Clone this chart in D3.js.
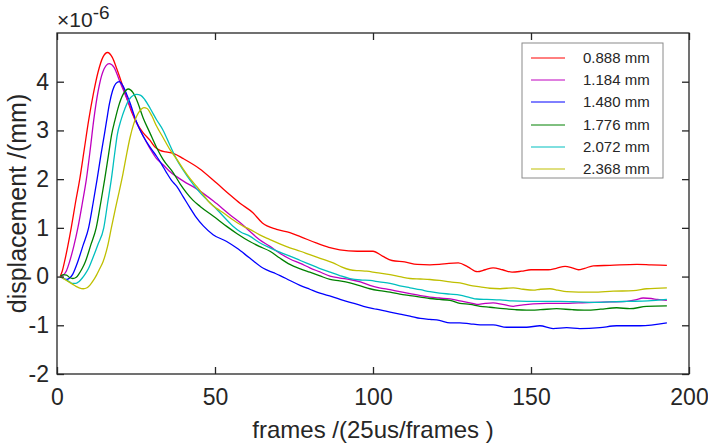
<!DOCTYPE html>
<html>
<head>
<meta charset="utf-8">
<script src="https://cdn.jsdelivr.net/npm/d3@7"></script>
<style>
  body { margin: 0; background: #fff; }
  svg text { font-family: "Liberation Sans", Arial, sans-serif; fill: #262626; }
</style>
</head>
<body>
<div id="chart"></div>
<script>
// legend / colours (old MATLAB style colour order)
const legendLabels = ["0.888 mm", "1.184 mm", "1.480 mm", "1.776 mm", "2.072 mm", "2.368 mm"];
const lineColors = ["#ff0000", "#bf00bf", "#0000ff", "#008000", "#00bfbf", "#bfbf00"];
const xTicks = [0, 50, 100, 150, 200];
const yTicks = [-2, -1, 0, 1, 2, 3, 4];

// [frame, displacement x1e-6 mm]
const d0888 = [[1,0],[1.7,0.12],[2.4,0.31],[3.4,0.62],[4.5,1.0],[5.8,1.5],[7.2,2.0],[8.6,2.6],[10,3.2],[11.5,3.75],[13,4.2],[14.5,4.5],[16,4.6],[17.5,4.5],[19,4.25],[20.5,3.97],[22,3.68],[23.5,3.4],[25.5,3.12],[27.3,2.95],[29.4,2.8],[31,2.66],[32.6,2.59],[34.5,2.56],[36.8,2.53],[40,2.42],[45,2.22],[50.5,1.92],[54.7,1.68],[58,1.5],[62,1.31],[65,1.1],[69.5,0.97],[73.7,0.9],[77,0.82],[82,0.69],[86,0.6],[89.5,0.55],[95,0.52],[100,0.52],[103,0.42],[106,0.33],[110,0.3],[114,0.25],[118,0.24],[121,0.25],[124,0.27],[127,0.28],[130,0.2],[133,0.1],[135.5,0.14],[138,0.18],[141,0.14],[144,0.09],[147,0.11],[150,0.14],[155.5,0.14],[158,0.17],[160.8,0.21],[163,0.18],[165,0.14],[167,0.17],[169.7,0.22],[175,0.23],[183.5,0.25],[188,0.24],[193,0.23]];
const d1184 = [[1,0],[2,0.03],[3,0.12],[4,0.31],[5.3,0.62],[6.6,1.0],[8,1.5],[9.3,2.0],[10.5,2.6],[11.6,3.2],[13,3.8],[14.5,4.2],[16.5,4.37],[18,4.3],[19.9,4.0],[21.5,3.75],[23.1,3.5],[25.6,3.1],[27.3,2.88],[29.5,2.62],[31.5,2.42],[33.5,2.3],[35.8,2.15],[40,1.96],[44.2,1.8],[49.5,1.55],[54.7,1.27],[59,1.05],[61,0.93],[64,0.76],[67.4,0.62],[70.5,0.48],[73.7,0.36],[77,0.27],[80,0.18],[83,0.1],[86.4,0.01],[89.5,-0.03],[92.7,-0.06],[96,-0.11],[99,-0.18],[102,-0.23],[105.4,-0.27],[108.5,-0.31],[111.7,-0.35],[115,-0.39],[118,-0.42],[121,-0.44],[124.4,-0.46],[127.5,-0.5],[130.7,-0.54],[132.8,-0.57],[135.5,-0.55],[138,-0.54],[141,-0.57],[144.4,-0.61],[147.5,-0.58],[150.7,-0.56],[155,-0.55],[159,-0.55],[165,-0.54],[170,-0.53],[175,-0.52],[180.3,-0.51],[183,-0.48],[185.5,-0.44],[188,-0.45],[190,-0.47],[193,-0.49]];
const d1480 = [[1,0],[2,-0.04],[3,-0.06],[4,-0.03],[5,0.05],[5.8,0.17],[6.6,0.31],[8.3,0.65],[10,1.0],[11.4,1.5],[12.7,2.0],[13.9,2.5],[15,2.92],[15.7,3.2],[16.6,3.55],[17.6,3.82],[18.6,3.96],[19.7,4.0],[21,3.9],[22,3.75],[23.1,3.57],[25,3.2],[27.3,2.88],[29.5,2.65],[31.5,2.47],[33,2.32],[34.7,2.13],[36.3,1.97],[37.9,1.85],[40,1.63],[42,1.42],[44,1.22],[46.3,1.04],[49.4,0.86],[53.7,0.72],[57,0.58],[61,0.38],[65.3,0.17],[68.5,0.08],[70.6,0.02],[73.7,-0.08],[76.9,-0.18],[80,-0.26],[83.2,-0.34],[87,-0.41],[90.6,-0.49],[94,-0.55],[97,-0.61],[101,-0.67],[105.4,-0.73],[108.5,-0.77],[111.7,-0.81],[115,-0.86],[118,-0.88],[121,-0.9],[124.4,-0.95],[127.5,-0.95],[130.7,-0.97],[133.9,-0.99],[138,-0.99],[142.3,-1.04],[148.6,-1.04],[152.8,-1.01],[157,-1.07],[161.3,-1.05],[165.5,-1.07],[171.8,-1.05],[177.1,-1.01],[184.5,-1.01],[193,-0.95]];
const d1776 = [[1,0],[2,0.04],[3,0.03],[4,-0.02],[5,-0.04],[6,-0.02],[7,0.06],[8,0.17],[9,0.31],[10.7,0.65],[12.4,1.0],[13.8,1.5],[15.1,2.0],[16.3,2.5],[17.3,2.92],[18.3,3.2],[19.5,3.5],[21,3.75],[22.6,3.85],[24,3.78],[25.2,3.63],[27.3,3.25],[29.4,2.95],[31.5,2.65],[33.6,2.4],[36.8,2.13],[39,1.9],[41,1.72],[43,1.57],[45.3,1.44],[49.5,1.24],[53.7,1.03],[57,0.88],[61,0.72],[64,0.62],[67.4,0.52],[70.5,0.38],[73.7,0.25],[77,0.16],[80,0.09],[83,0.02],[86.4,-0.06],[89.5,-0.09],[92.7,-0.13],[96,-0.19],[99,-0.25],[102,-0.29],[105.4,-0.32],[108.5,-0.36],[111.7,-0.39],[115,-0.42],[118,-0.45],[121,-0.47],[124.4,-0.49],[127.5,-0.55],[130.7,-0.57],[133.9,-0.61],[137,-0.63],[141.2,-0.66],[145,-0.68],[148.6,-0.69],[153,-0.68],[158.1,-0.66],[163,-0.68],[167.6,-0.69],[172,-0.67],[177.1,-0.64],[181.3,-0.66],[186.6,-0.61],[193,-0.6]];
const d2072 = [[1,0],[2,-0.03],[3,-0.07],[4,-0.11],[5,-0.14],[6,-0.14],[7,-0.1],[8,-0.03],[9,0.06],[10,0.17],[10.9,0.31],[12.9,0.65],[14.8,1.0],[16,1.5],[17.2,2.0],[18.2,2.5],[19.1,2.92],[20.2,3.2],[21.5,3.45],[23,3.65],[25.2,3.74],[26.5,3.72],[27.8,3.63],[29.5,3.45],[31.5,3.22],[33.6,3.0],[35.7,2.7],[37.9,2.4],[40,2.18],[42,1.99],[44.5,1.78],[47.4,1.58],[49.5,1.45],[51.6,1.31],[55.8,1.03],[58,0.92],[61,0.83],[64,0.7],[67.4,0.59],[70.5,0.5],[73.7,0.42],[77,0.33],[80,0.25],[83,0.17],[86.4,0.09],[89.5,0.02],[92.7,-0.04],[96,-0.07],[99,-0.08],[102,-0.11],[105.4,-0.14],[108.5,-0.19],[111.7,-0.23],[115,-0.27],[118,-0.31],[121,-0.34],[124.4,-0.36],[127.5,-0.38],[130.7,-0.43],[132.8,-0.46],[136,-0.47],[140.2,-0.48],[144,-0.5],[148.6,-0.51],[154,-0.51],[159.2,-0.51],[165,-0.52],[169.7,-0.53],[175,-0.52],[180.3,-0.51],[187,-0.5],[193,-0.47]];
const d2368 = [[1,0],[2,-0.04],[3,-0.08],[4,-0.12],[5,-0.16],[6,-0.2],[7,-0.23],[8.3,-0.25],[9.5,-0.23],[10.5,-0.17],[11.5,-0.08],[12.5,0.03],[13.5,0.16],[14.6,0.31],[16,0.62],[17.2,1.0],[18.5,1.4],[19.7,1.75],[20.9,2.12],[22,2.5],[23.1,2.85],[24.2,3.12],[25.2,3.29],[26.3,3.41],[27.5,3.47],[28.5,3.45],[30,3.3],[31.5,3.09],[33.6,2.85],[35.8,2.6],[38,2.4],[40,2.2],[42,2.02],[44.2,1.85],[46.3,1.68],[48.4,1.51],[50.5,1.4],[52.6,1.31],[56,1.15],[59,1.03],[61,0.97],[64,0.86],[67.4,0.76],[70.5,0.67],[73.7,0.59],[77,0.52],[80,0.45],[83.5,0.37],[87.4,0.28],[90,0.2],[92.7,0.14],[95.5,0.12],[98,0.11],[101,0.08],[105.4,0.04],[108.5,0.0],[111.7,-0.04],[115,-0.05],[118,-0.06],[121,-0.08],[124.4,-0.11],[127.5,-0.13],[130.7,-0.18],[133.9,-0.21],[137,-0.24],[140.2,-0.25],[144.4,-0.23],[147.5,-0.26],[150.7,-0.28],[153,-0.26],[156,-0.25],[158.5,-0.28],[161.3,-0.31],[165,-0.32],[169.7,-0.32],[176,-0.3],[182.4,-0.29],[186.6,-0.25],[193,-0.23]];

const allSeries = [d0888, d1184, d1480, d1776, d2072, d2368];

function drawChart() {
  const width = 708, height = 448;
  const margin = { top: 33, right: 19, bottom: 74, left: 57 };
  const innerW = width - margin.left - margin.right;
  const innerH = height - margin.top - margin.bottom;
  const axisColor = "#262626";

  const svg = d3.select("#chart").append("svg")
    .attr("width", width)
    .attr("height", height);

  const x = d3.scaleLinear().domain([0, 200]).range([margin.left, margin.left + innerW]);
  const y = d3.scaleLinear().domain([-2, 5]).range([margin.top + innerH, margin.top]);

  // lines
  const line = d3.line()
    .x(d => x(d[0]))
    .y(d => y(d[1]))
    .curve(d3.curveMonotoneX);

  svg.append("g").selectAll("path")
    .data(allSeries)
    .enter()
    .append("path")
    .attr("d", line)
    .attr("fill", "none")
    .attr("stroke", (d, i) => lineColors[i])
    .attr("stroke-width", 1.3);

  // plain hyphen minus like the original
  const fmt = d => String(d);

  // axes, ticks pointing inward (MATLAB box style)
  const bottom = svg.append("g")
    .attr("transform", `translate(0,${margin.top + innerH})`)
    .call(d3.axisBottom(x).tickValues(xTicks).tickFormat(fmt).tickSizeInner(-7).tickSizeOuter(0).tickPadding(15));
  const left = svg.append("g")
    .attr("transform", `translate(${margin.left},0)`)
    .call(d3.axisLeft(y).tickValues(yTicks).tickFormat(fmt).tickSizeInner(-7).tickSizeOuter(0).tickPadding(8));
  const top = svg.append("g")
    .attr("transform", `translate(0,${margin.top})`)
    .call(d3.axisTop(x).tickValues(xTicks).tickSizeInner(-7).tickSizeOuter(0).tickFormat(""));
  const right = svg.append("g")
    .attr("transform", `translate(${margin.left + innerW},0)`)
    .call(d3.axisRight(y).tickValues(yTicks).tickSizeInner(-7).tickSizeOuter(0).tickFormat(""));

  [bottom, left, top, right].forEach(g => {
    g.select(".domain").remove();
    g.selectAll("line").attr("stroke", axisColor).attr("stroke-width", 1.3);
    g.selectAll("text").attr("fill", axisColor).style("font-size", "23px");
  });

  svg.append("rect")
    .attr("x", margin.left)
    .attr("y", margin.top)
    .attr("width", innerW)
    .attr("height", innerH)
    .attr("fill", "none")
    .attr("stroke", axisColor)
    .attr("stroke-width", 1.3);

  // axis labels
  svg.append("text")
    .attr("x", margin.left + innerW / 2)
    .attr("y", 438)
    .attr("text-anchor", "middle")
    .style("font-size", "24px")
    .text("frames /(25us/frames )");

  svg.append("text")
    .attr("transform", `translate(26,${margin.top + innerH / 2}) rotate(-90)`)
    .attr("text-anchor", "middle")
    .style("font-size", "25px")
    .text("displacement /(mm)");

  // exponent label
  const expo = svg.append("text")
    .attr("x", margin.left)
    .attr("y", 27)
    .style("font-size", "21px");
  expo.append("tspan").text("\u00d710");
  expo.append("tspan").attr("dy", -8.5).style("font-size", "19px").text("-6");

  // legend
  const lg = { x: 522, y: 43, w: 141, h: 135, row: 22.2, first: 15 };
  const legend = svg.append("g");
  legend.append("rect")
    .attr("x", lg.x)
    .attr("y", lg.y)
    .attr("width", lg.w)
    .attr("height", lg.h)
    .attr("fill", "#fff")
    .attr("stroke", "#8a8a8a")
    .attr("stroke-width", 1);

  const items = legend.selectAll("g.item")
    .data(legendLabels)
    .enter()
    .append("g")
    .attr("class", "item")
    .attr("transform", (d, i) => `translate(${lg.x},${Math.round(lg.y + lg.first + i * lg.row)})`);

  items.append("line")
    .attr("x1", 9)
    .attr("x2", 43)
    .attr("stroke", (d, i) => lineColors[i])
    .attr("stroke-width", 1);

  items.append("text")
    .attr("x", 61)
    .attr("dy", "0.35em")
    .style("font-size", "15px")
    .text(d => d);
}

drawChart();
</script>
</body>
</html>
